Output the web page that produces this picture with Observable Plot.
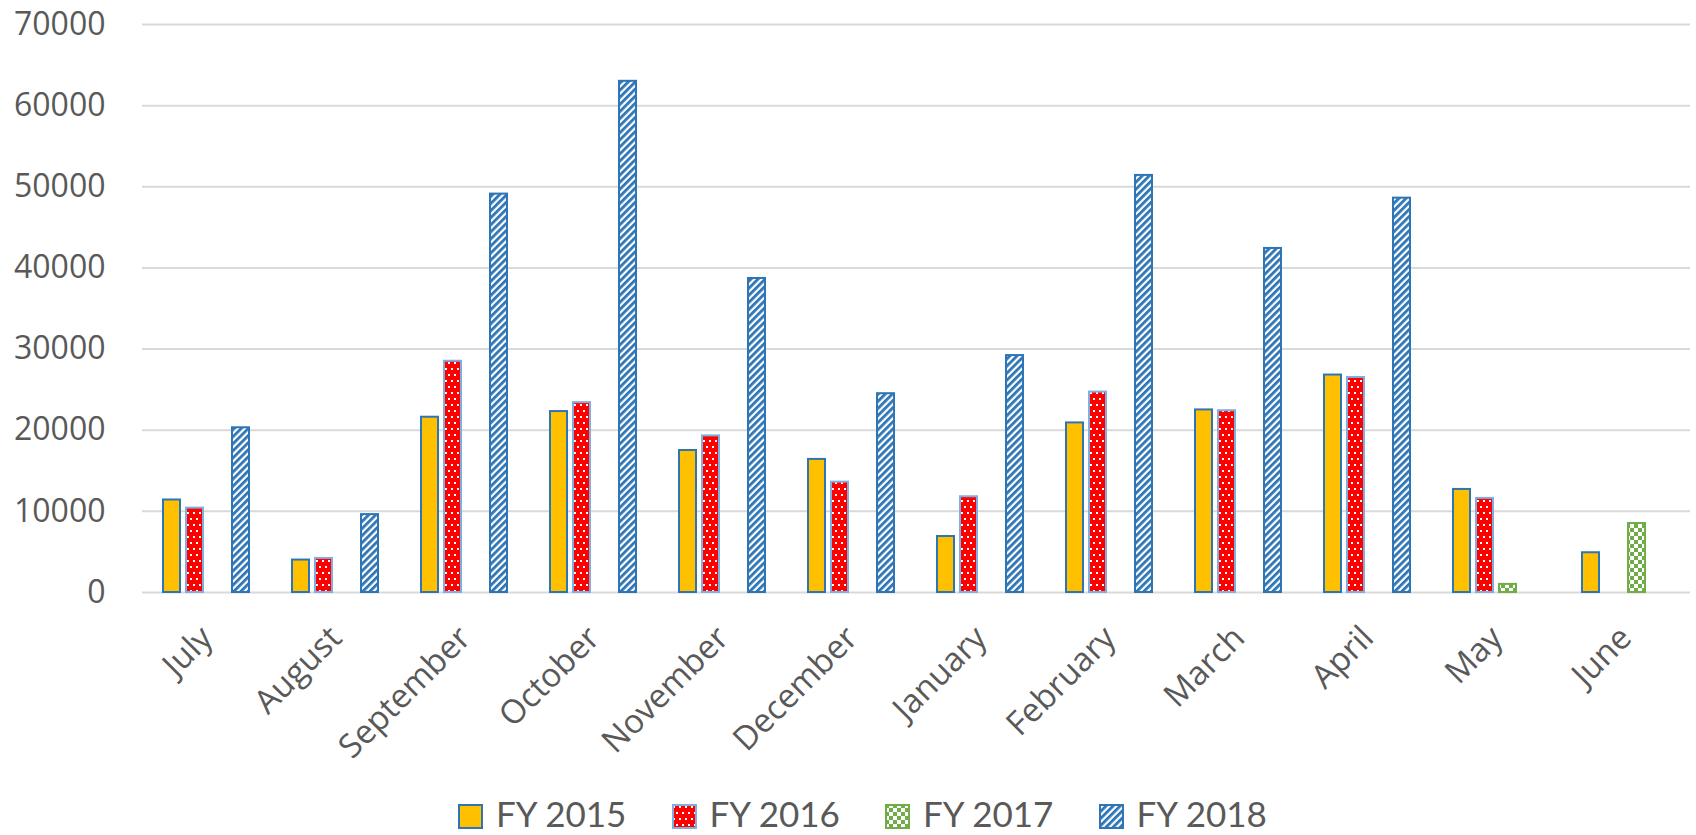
<!DOCTYPE html>
<html>
<head>
<meta charset="utf-8">
<script src="https://cdn.jsdelivr.net/npm/d3@7"></script>
<script src="https://cdn.jsdelivr.net/npm/@observablehq/plot@0.6"></script>
<style>
  html, body { margin: 0; padding: 0; background: #fff; }
  #wrap { position: relative; width: 1696px; height: 835px; font-family: "Open Sans", sans-serif; }
  #legend { position: absolute; left: 458px; top: 792px; height: 42px; display: flex; align-items: center; font-family: Lato, "Open Sans", sans-serif; font-size: 35px; color: #595959; line-height: 42px; white-space: nowrap; }
  .item { display: flex; align-items: center; width: 213.5px; }
  .item svg { margin-right: 12px; position: relative; top: 4px; }
  [aria-label="fx-axis tick label"] { font-size: 33px; }
  [aria-label="y-axis tick label"] { font-size: 32px; }
</style>
</head>
<body>
<svg width="0" height="0" style="position:absolute">
  <defs>
    <pattern id="p2016" patternUnits="userSpaceOnUse" width="6" height="12">
      <rect width="6" height="12" fill="#FF0000"></rect>
      <rect x="1" y="2" width="2" height="2" fill="#ffffff"></rect>
      <rect x="4" y="8" width="2" height="2" fill="#ffffff"></rect>
    </pattern>
    <pattern id="p2017" patternUnits="userSpaceOnUse" width="8" height="8">
      <rect width="8" height="8" fill="#ffffff"></rect>
      <rect x="0" y="0" width="4" height="4" fill="#70AD47"></rect>
      <rect x="4" y="4" width="4" height="4" fill="#70AD47"></rect>
    </pattern>
    <pattern id="p2018" patternUnits="userSpaceOnUse" width="5" height="5" patternTransform="rotate(45)">
      <rect width="5" height="5" fill="#ffffff"></rect>
      <rect x="0" y="0" width="2.8" height="5" fill="#2E75B6"></rect>
    </pattern>
  </defs>
</svg>
<div id="wrap">
  <div id="chart"></div>
  <div id="legend"></div>
</div>
<script>
const months = ["July","August","September","October","November","December","January","February","March","April","May","June"];
const series = ["FY 2015","FY 2016","FY 2017","FY 2018"];
const fy2015 = [11400, 4000, 21600, 22300, 17500, 16400, 6900, 20900, 22500, 26800, 12700, 4900];
const fy2016 = [10400, 4200, 28500, 23400, 19300, 13600, 11800, 24700, 22400, 26500, 11600, null];
const fy2017 = [null, null, null, null, null, null, null, null, null, null, 1000, 8500];
const fy2018 = [20300, 9600, 49100, 63000, 38700, 24500, 29200, 51400, 42400, 48600, null, null];
const yTicks = [0, 10000, 20000, 30000, 40000, 50000, 60000, 70000];

const fills = {"FY 2015": "#FFC000", "FY 2016": "url(#p2016)", "FY 2017": "url(#p2017)", "FY 2018": "url(#p2018)"};
const strokes = {"FY 2015": "#2E75B6", "FY 2016": "#7EAFE0", "FY 2017": "#70AD47", "FY 2018": "#2E75B6"};
const valuesBySeries = {"FY 2015": fy2015, "FY 2016": fy2016, "FY 2017": fy2017, "FY 2018": fy2018};

const data = [];
series.forEach(s => {
  valuesBySeries[s].forEach((v, i) => {
    if (v != null) data.push({month: months[i], series: s, value: v});
  });
});

const chart = Plot.plot({
  width: 1696,
  height: 792,
  marginLeft: 139,
  marginRight: 4,
  marginTop: 24,
  marginBottom: 200,
  style: {fontFamily: "Open Sans", fontSize: "32px", color: "#595959", background: "#fff"},
  fx: {domain: months, padding: 0, label: null, tickRotate: -45, tickSize: 0, tickPadding: 40},
  x: {domain: series, axis: null, paddingInner: 0.253, paddingOuter: 0.903},
  y: {domain: [0, 70000], ticks: yTicks, tickFormat: d => String(d), tickSize: 0, tickPadding: 37, label: null},
  marks: [
    Plot.ruleY(yTicks, {stroke: "#D9D9D9", strokeWidth: 2}),
    ...series.map(s => Plot.barY(data.filter(d => d.series === s), {
      fx: "month", x: "series", y: "value",
      fill: fills[s], stroke: strokes[s], strokeWidth: 2
    }))
  ]
});
document.getElementById("chart").appendChild(chart);

const legend = d3.select("#legend");
series.forEach(s => {
  const item = legend.append("div").attr("class", "item");
  const sw = item.append("svg").attr("width", 26).attr("height", 26);
  sw.append("rect").attr("x", 1).attr("y", 1).attr("width", 23).attr("height", 23)
    .attr("fill", fills[s]).attr("stroke", strokes[s]).attr("stroke-width", 2);
  item.append("span").text(s);
});
</script>
</body>
</html>
